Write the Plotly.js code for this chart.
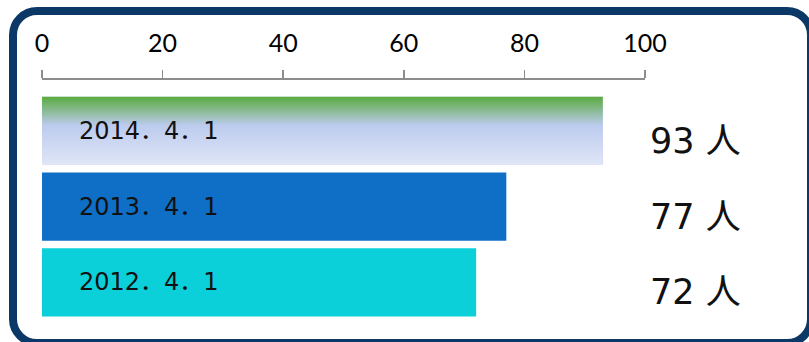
<!DOCTYPE html>
<html><head><meta charset="utf-8">
<script src="https://cdn.plot.ly/plotly-3.0.1.min.js"></script>
<style>
html,body{margin:0;padding:0;width:809px;height:342px;overflow:hidden;background:#fff;}
#chart{position:absolute;left:0;top:0;width:809px;height:342px;}
#frame{position:absolute;left:9px;top:7px;width:806px;height:340px;border:8px solid #0b3866;border-radius:28px;box-sizing:border-box;pointer-events:none;}
</style></head><body>
<div id="chart"></div><div id="frame"></div>
<script>
const dates = ['2014．4．1', '2013．4．1', '2012．4．1'];
const values = [93, 77, 72];
const countLabels = ['93 人', '77 人', '72 人'];
const barColors = ['#bccbee', '#0f6fc6', '#0bd0d9'];
const tickVals = [0, 20, 40, 60, 80, 100];
const tickText = ['0', '20', '40', '60', '80', '100'];

const pos = dates.map((d, i) => i);
const bw = 0.9;

const bars = {
  type: 'bar', orientation: 'h', x: values, y: pos, width: bw,
  marker: {color: barColors, line: {width: 0}}, hoverinfo: 'skip'
};
// gradient overlay for the first (2014) bar, derived from its value
const v0 = values[0], p0 = pos[0];
const grad = {
  type: 'scatter', mode: 'lines',
  x: [0, v0, v0, 0, 0],
  y: [p0 - bw/2, p0 - bw/2, p0 + bw/2, p0 + bw/2, p0 - bw/2],
  fill: 'toself', line: {width: 0, color: 'rgba(0,0,0,0)'},
  fillgradient: {type: 'vertical', colorscale: [[0, '#e0e6f7'], [0.58, '#bccbee'], [1, '#5aab3f']]},
  hoverinfo: 'skip'
};

const ann = [];
pos.forEach((p, i) => {
  ann.push({x: 0, y: p, xref: 'x', yref: 'y', text: dates[i], showarrow: false,
    xanchor: 'left', yanchor: 'middle', xshift: 35,
    font: {family: 'DejaVu Sans, Noto Sans CJK JP', size: 24, color: '#111'}});
  ann.push({x: 1.0055, y: p, xref: 'paper', yref: 'y', text: countLabels[i], showarrow: false,
    xanchor: 'left', yanchor: 'middle', yshift: -10,
    font: {family: 'DejaVu Sans, Noto Sans CJK JP', size: 35, color: '#111'}});
});

const layout = {
  width: 809, height: 342,
  margin: {l: 42, r: 164, t: 80, b: 12},
  paper_bgcolor: '#fff', plot_bgcolor: 'rgba(0,0,0,0)',
  showlegend: false,
  xaxis: {range: [0, 100], side: 'top', tickvals: tickVals, ticktext: tickText,
    ticks: 'outside', ticklen: 8, tickwidth: 1.5, tickcolor: '#8c8c8c',
    showline: true, linecolor: '#8c8c8c', linewidth: 2, showgrid: false, zeroline: false,
    ticklabelstandoff: 8,
    tickfont: {family: 'Lato', size: 25, color: '#000'}, fixedrange: true},
  yaxis: {range: [2.627, -0.671], showticklabels: false, ticks: '', showgrid: false,
    zeroline: false, showline: false, fixedrange: true},
  annotations: ann
};
Plotly.newPlot('chart', [bars, grad], layout, {displayModeBar: false, staticPlot: true});
</script></body></html>
